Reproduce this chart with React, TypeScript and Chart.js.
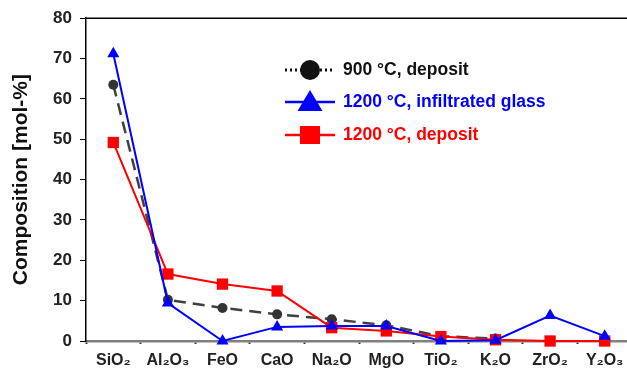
import React, { useEffect, useRef } from "react";
import { Chart, registerables } from "chart.js";

Chart.register(...registerables);

const categories = ["SiO₂", "Al₂O₃", "FeO", "CaO", "Na₂O", "MgO", "TiO₂", "K₂O", "ZrO₂", "Y₂O₃"];
const deposit900 = [63.5, 10.2, 8.2, 6.6, 5.4, 3.9, 1.2, 0.6, null, null];
const glass1200 = [71.2, 9.4, 0, 3.5, 3.7, 3.7, 0, 0.2, 6.3, 1.2];
const deposit1200 = [49.2, 16.6, 14.1, 12.4, 3.3, 2.5, 1.1, 0.3, 0, 0];
const yTicks = [0, 10, 20, 30, 40, 50, 60, 70, 80];

const legendLabels = ["900 °C, deposit", "1200 °C, infiltrated glass", "1200 °C, deposit"];
const FONT = '"Liberation Sans", Arial, sans-serif';

const frameAndLegend = {
  id: "frameAndLegend",
  afterDraw(chart: any) {
    const ctx = chart.ctx;
    const a = chart.chartArea;
    ctx.save();
    // top border
    ctx.strokeStyle = "#000";
    ctx.lineWidth = 1.5;
    ctx.beginPath();
    ctx.moveTo(a.left, a.top);
    ctx.lineTo(a.right, a.top);
    ctx.stroke();

    const rows = [
      { y: 70, color: "#111", line: "#111", dash: [2, 3], lw: 3, marker: "circle" },
      { y: 102, color: "#0000ff", line: "#0000ff", dash: [], lw: 2.5, marker: "triangle" },
      { y: 135, color: "#ff0000", line: "#ff0000", dash: [], lw: 2.5, marker: "square" },
    ];
    rows.forEach((r, i) => {
      ctx.setLineDash(r.dash);
      ctx.strokeStyle = r.line;
      ctx.lineWidth = r.lw;
      ctx.beginPath();
      ctx.moveTo(285, r.y);
      ctx.lineTo(335, r.y);
      ctx.stroke();
      ctx.setLineDash([]);
      ctx.fillStyle = r.color;
      const cx = 310;
      ctx.beginPath();
      if (r.marker === "circle") {
        ctx.arc(cx, r.y, 10, 0, Math.PI * 2);
      } else if (r.marker === "triangle") {
        ctx.moveTo(cx, r.y - 12);
        ctx.lineTo(cx + 12.5, r.y + 9);
        ctx.lineTo(cx - 12.5, r.y + 9);
        ctx.closePath();
      } else {
        ctx.rect(cx - 10, r.y - 9, 20, 18);
      }
      ctx.fill();
      ctx.font = `bold 17.5px ${FONT}`;
      ctx.textBaseline = "middle";
      ctx.textAlign = "left";
      ctx.fillText(legendLabels[i], 343, r.y);
    });
    ctx.restore();
  },
};

const whiteBg = {
  id: "whiteBg",
  beforeDraw(chart: any) {
    const ctx = chart.ctx;
    ctx.save();
    ctx.fillStyle = "#fff";
    ctx.fillRect(0, 0, chart.width, chart.height);
    ctx.restore();
  },
};

export default function App() {
  const ref = useRef<HTMLCanvasElement>(null);
  useEffect(() => {
    if (!ref.current) return;
    const chart = new Chart(ref.current, {
      type: "line",
      data: {
        labels: categories,
        datasets: [
          {
            label: legendLabels[0],
            data: deposit900,
            borderColor: "#404040",
            backgroundColor: "#333",
            borderDash: [12, 7],
            borderWidth: 2.5,
            pointStyle: "circle",
            pointRadius: 5,
            pointBorderWidth: 0,
            spanGaps: false,
            order: 2,
            clip: false,
          },
          {
            label: legendLabels[2],
            data: deposit1200,
            borderColor: "#ff0000",
            backgroundColor: "#ff0000",
            borderWidth: 2,
            pointStyle: "rect",
            pointRadius: 8,
            pointBorderWidth: 0,
            order: 1,
            clip: false,
          },
          {
            label: legendLabels[1],
            data: glass1200,
            borderColor: "#0000ff",
            backgroundColor: "#0000ff",
            borderWidth: 2,
            pointStyle: "triangle",
            pointRadius: 7,
            pointBorderWidth: 0,
            order: 0,
            clip: false,
          },
        ],
      },
      options: {
        animation: false,
        responsive: false,
        devicePixelRatio: 1,
        layout: { padding: { top: 16, right: 8, left: 0, bottom: 0 } },
        plugins: { legend: { display: false }, tooltip: { enabled: false } },
        scales: {
          x: {
            offset: true,
            grid: {
              offset: true,
              drawOnChartArea: false,
              drawTicks: true,
              tickLength: 3,
              tickWidth: 2,
              color: "#333",
            },
            border: { display: true, color: "#808080", width: 2.5 },
            ticks: {
              color: "#222",
              font: { family: FONT, size: 16, weight: "bold" },
              padding: 7,
              maxRotation: 0,
              autoSkip: false,
            },
            afterFit(scale: any) {
              scale.height = 34;
            },
          },
          y: {
            min: 0,
            max: 80,
            afterBuildTicks(scale: any) {
              scale.ticks = yTicks.map((v) => ({ value: v }));
            },
            grid: {
              drawOnChartArea: false,
              drawTicks: true,
              tickLength: 6,
              color: "#000",
            },
            border: { display: true, color: "#000", width: 1.5 },
            ticks: {
              color: "#222",
              font: { family: FONT, size: 17, weight: "bold" },
              padding: 8,
            },
            title: {
              display: true,
              text: "Composition [mol-%]",
              color: "#111",
              font: { family: FONT, size: 21, weight: "bold" },
              padding: { top: 9, bottom: 0 },
            },
            afterFit(scale: any) {
              scale.width = 86;
            },
          },
        },
      },
      plugins: [whiteBg, frameAndLegend],
    });
    return () => chart.destroy();
  }, []);

  return (
    <div
      style={{
        position: "fixed",
        left: 0,
        top: 0,
        width: 627,
        height: 375,
        overflow: "hidden",
        background: "#fff",
      }}
    >
      <canvas ref={ref} width={640} height={375} style={{ display: "block" }} />
    </div>
  );
}
